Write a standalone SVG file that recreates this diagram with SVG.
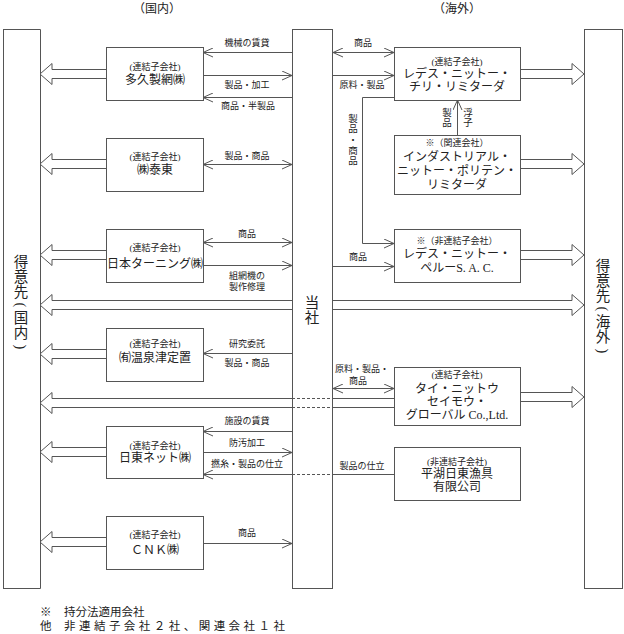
<svg xmlns="http://www.w3.org/2000/svg" width="624" height="634" viewBox="0 0 624 634">
<style>
.bx{fill:#fff;stroke:#555;stroke-width:1}
.ln{fill:none;stroke:#555;stroke-width:1}
.dash{fill:none;stroke:#555;stroke-width:1;stroke-dasharray:3 2}
.fat{fill:#fff;stroke:#555;stroke-width:1}
text{font-family:"Liberation Serif","Noto Sans CJK JP",serif;fill:#222}
.h{font-size:9px;text-anchor:middle}
.n{font-size:12px;text-anchor:middle}
.l{font-size:9px;text-anchor:middle}
.vl{font-size:9.5px;text-anchor:middle}
.big{font-size:14.5px;text-anchor:middle}
.par{font-size:14.5px;text-anchor:middle;dominant-baseline:central}
.t{font-size:12px;text-anchor:middle}
.f{font-size:11.5px}
</style>
<defs>
<marker id="a" viewBox="0 0 10 10" refX="10" refY="5" markerWidth="10" markerHeight="10" markerUnits="userSpaceOnUse" orient="auto-start-reverse"><path d="M0,0.5 L10,5 L0,9.5" fill="none" stroke="#555" stroke-width="1"/></marker>
</defs>

<text class="t" x="157" y="13">（国内）</text>
<text class="t" x="457" y="13">（海外）</text>

<g id="tokuisaki-kokunai">
<polyline class="ln" points="3,29.5 40.5,29.5 40.5,588.5 3,588.5"/>
<line class="ln" x1="3.5" y1="29" x2="3.5" y2="589"/>
<text class="big" x="21" y="267">得</text>
<text class="big" x="21" y="282">意</text>
<text class="big" x="21" y="297">先</text>
<text class="par" x="21" y="305" transform="rotate(90 21 305)">(</text>
<text class="big" x="21" y="323">国</text>
<text class="big" x="21" y="338">内</text>
<text class="par" x="21" y="347" transform="rotate(90 21 347)">)</text>
</g>
<g id="tosha">
<rect class="bx" x="292.5" y="29.5" width="40" height="559"/>
<text class="big" x="312" y="308">当</text>
<text class="big" x="312" y="323">社</text>
</g>
<g id="tokuisaki-kaigai">
<rect class="bx" x="584.5" y="29.5" width="38" height="559"/>
<text class="big" x="603" y="271">得</text>
<text class="big" x="603" y="286">意</text>
<text class="big" x="603" y="301">先</text>
<text class="par" x="603" y="309" transform="rotate(90 603 309)">(</text>
<text class="big" x="603" y="327">海</text>
<text class="big" x="603" y="342">外</text>
<text class="par" x="603" y="351" transform="rotate(90 603 351)">)</text>
</g>

<g id="connectors">
<polyline class="fat" points="106,69.5 52,69.5 52,63.5 40,74 52,84.5 52,78.5 106,78.5"/>
<polyline class="fat" points="106,159.5 52,159.5 52,153.5 40,164 52,174.5 52,168.5 106,168.5"/>
<polyline class="fat" points="106,250.5 52,250.5 52,244.5 40,255 52,265.5 52,259.5 106,259.5"/>
<polyline class="fat" points="106,349.5 52,349.5 52,343.5 40,354 52,364.5 52,358.5 106,358.5"/>
<polyline class="fat" points="106,447.5 52,447.5 52,441.5 40,452 52,462.5 52,456.5 106,456.5"/>
<polyline class="fat" points="106,537.5 52,537.5 52,531.5 40,542 52,552.5 52,546.5 106,546.5"/>
<polyline class="fat" points="292,300.5 52,300.5 52,294.5 40,305 52,315.5 52,309.5 292,309.5"/>
<polyline class="fat" points="292,398.5 52,398.5 52,392.5 40,403 52,413.5 52,407.5 292,407.5"/>
<line class="dash" x1="292" y1="398.5" x2="332" y2="398.5"/>
<line class="dash" x1="292" y1="407.5" x2="332" y2="407.5"/>
<line class="ln" x1="333" y1="398.5" x2="394" y2="398.5"/>
<line class="ln" x1="333" y1="407.5" x2="394" y2="407.5"/>
<polyline class="fat" points="520,69.5 572,69.5 572,63.5 584,74 572,84.5 572,78.5 520,78.5"/>
<polyline class="fat" points="520,159.5 572,159.5 572,153.5 584,164 572,174.5 572,168.5 520,168.5"/>
<polyline class="fat" points="520,250.5 572,250.5 572,244.5 584,255 572,265.5 572,259.5 520,259.5"/>
<polyline class="fat" points="520,392.5 572,392.5 572,386.5 584,397 572,407.5 572,401.5 520,401.5"/>
<polyline class="fat" points="333,300.5 572,300.5 572,294.5 584,305 572,315.5 572,309.5 333,309.5"/>

<line class="ln" x1="292" y1="52.5" x2="203" y2="52.5" marker-end="url(#a)"/>
<text class="l" x="247" y="46">機械の賃貸</text>
<line class="ln" x1="203" y1="75.5" x2="292" y2="75.5" marker-end="url(#a)"/>
<text class="l" x="247" y="88">製品・加工</text>
<line class="ln" x1="292" y1="97.5" x2="203" y2="97.5" marker-end="url(#a)"/>
<text class="l" x="248" y="109">商品・半製品</text>

<line class="ln" x1="203" y1="164.5" x2="292" y2="164.5" marker-start="url(#a)" marker-end="url(#a)"/>
<text class="l" x="247" y="159">製品・商品</text>

<line class="ln" x1="203" y1="242.5" x2="292" y2="242.5" marker-start="url(#a)" marker-end="url(#a)"/>
<text class="l" x="247" y="237">商品</text>
<line class="ln" x1="203" y1="265.5" x2="292" y2="265.5" marker-end="url(#a)"/>
<text class="l" x="247" y="279">組網機の</text>
<text class="l" x="247" y="290">製作修理</text>

<line class="ln" x1="292" y1="353.5" x2="203" y2="353.5" marker-end="url(#a)"/>
<text class="l" x="247" y="347">研究委託</text>
<text class="l" x="247" y="366">製品・商品</text>

<line class="ln" x1="292" y1="431.5" x2="203" y2="431.5" marker-end="url(#a)"/>
<text class="l" x="247" y="424">施設の賃貸</text>
<line class="ln" x1="203" y1="452.5" x2="292" y2="452.5" marker-end="url(#a)"/>
<text class="l" x="247" y="446">防汚加工</text>
<line class="ln" x1="292" y1="474.5" x2="203" y2="474.5" marker-end="url(#a)"/>
<text class="l" x="247" y="467">撚糸・製品の仕立</text>
<line class="dash" x1="292" y1="474.5" x2="332" y2="474.5"/>
<line class="ln" x1="333" y1="474.5" x2="394" y2="474.5"/>
<text class="l" x="362" y="469">製品の仕立</text>

<line class="ln" x1="203" y1="543.5" x2="292" y2="543.5" marker-end="url(#a)"/>
<text class="l" x="247" y="536">商品</text>

<line class="ln" x1="333" y1="52.5" x2="394" y2="52.5" marker-start="url(#a)" marker-end="url(#a)"/>
<text class="l" x="363" y="46">商品</text>
<line class="ln" x1="333" y1="75.5" x2="394" y2="75.5" marker-end="url(#a)"/>
<text class="l" x="362" y="88">原料・製品</text>
<polyline class="ln" points="394,97.5 362.5,97.5 362.5,243.5 394,243.5" marker-end="url(#a)"/>
<text class="vl" x="353" y="121.5">製</text>
<text class="vl" x="353" y="132">品</text>
<text class="vl" x="353" y="143">・</text>
<text class="vl" x="353" y="153.5">商</text>
<text class="vl" x="353" y="164">品</text>
<line class="ln" x1="457.5" y1="135" x2="457.5" y2="100" marker-end="url(#a)"/>
<text class="vl" x="447" y="115.5">製</text>
<text class="vl" x="447" y="126">品</text>
<text class="vl" x="468" y="115.5">浮</text>
<text class="vl" x="468" y="126">子</text>
<line class="ln" x1="333" y1="266.5" x2="394" y2="266.5" marker-end="url(#a)"/>
<text class="l" x="358" y="260">商品</text>
<line class="ln" x1="333" y1="388.5" x2="394" y2="388.5" marker-start="url(#a)" marker-end="url(#a)"/>
<text class="l" x="362" y="372">原料・製品・</text>
<text class="l" x="358" y="384">商品</text>
</g>

<g id="takyu">
<rect class="bx" x="106.5" y="47.5" width="97" height="53"/>
<text class="h" x="155" y="70">(連結子会社)</text>
<text class="n" x="155" y="84">多久製網㈱</text>
</g>
<g id="taito">
<rect class="bx" x="106.5" y="138.5" width="97" height="53"/>
<text class="h" x="155" y="160">(連結子会社)</text>
<text class="n" x="155" y="174">㈱泰東</text>
</g>
<g id="nihon-turning">
<rect class="bx" x="106.5" y="229.5" width="97" height="53"/>
<text class="h" x="155" y="251">(連結子会社)</text>
<text class="n" x="155" y="268">日本ターニング㈱</text>
</g>
<g id="yunotsu">
<rect class="bx" x="106.5" y="328.5" width="97" height="53"/>
<text class="h" x="155" y="347">(連結子会社)</text>
<text class="n" x="155" y="362">㈲温泉津定置</text>
</g>
<g id="nitto-net">
<rect class="bx" x="106.5" y="426.5" width="97" height="52"/>
<text class="h" x="155" y="449">(連結子会社)</text>
<text class="n" x="155" y="462">日東ネット㈱</text>
</g>
<g id="cnk">
<rect class="bx" x="106.5" y="516.5" width="97" height="53"/>
<text class="h" x="155" y="538">(連結子会社)</text>
<text class="n" x="155" y="554">ＣＮＫ㈱</text>
</g>

<g id="redes-chile">
<rect class="bx" x="394.5" y="47.5" width="126" height="53"/>
<text class="h" x="457" y="65">(連結子会社)</text>
<text class="n" x="457" y="78">レデス・ニットー・</text>
<text class="n" x="457" y="91">チリ・リミターダ</text>
</g>
<g id="industrial">
<rect class="bx" x="394.5" y="135.5" width="126" height="59"/>
<text class="h" x="457" y="146">※（関連会社）</text>
<text class="n" x="457" y="161">インダストリアル・</text>
<text class="n" x="457" y="175">ニットー・ポリテン・</text>
<text class="n" x="457" y="189">リミターダ</text>
</g>
<g id="redes-peru">
<rect class="bx" x="394.5" y="229.5" width="126" height="53"/>
<text class="h" x="457" y="244">※（非連結子会社）</text>
<text class="n" x="457" y="258">レデス・ニットー・</text>
<text class="n" x="457" y="272">ペルーS. A. C.</text>
</g>
<g id="thai">
<rect class="bx" x="394.5" y="367.5" width="126" height="58"/>
<text class="h" x="457" y="378">(連結子会社)</text>
<text class="n" x="457" y="393">タイ・ニットウ</text>
<text class="n" x="457" y="406">セイモウ・</text>
<text class="n" x="457" y="419">グローバル Co.,Ltd.</text>
</g>
<g id="pinghu">
<rect class="bx" x="394.5" y="447.5" width="126" height="53"/>
<text class="h" x="457" y="465">(非連結子会社)</text>
<text class="n" x="457" y="478">平湖日東漁具</text>
<text class="n" x="457" y="491">有限公司</text>
</g>

<g id="notes">
<text class="f" x="40" y="616">※</text>
<text class="f" x="64" y="616">持分法適用会社</text>
<text class="f" x="40" y="630">他</text>
<text class="f" x="64" y="630" textLength="221" lengthAdjust="spacing">非連結子会社２社、関連会社１社</text>
</g>
</svg>
